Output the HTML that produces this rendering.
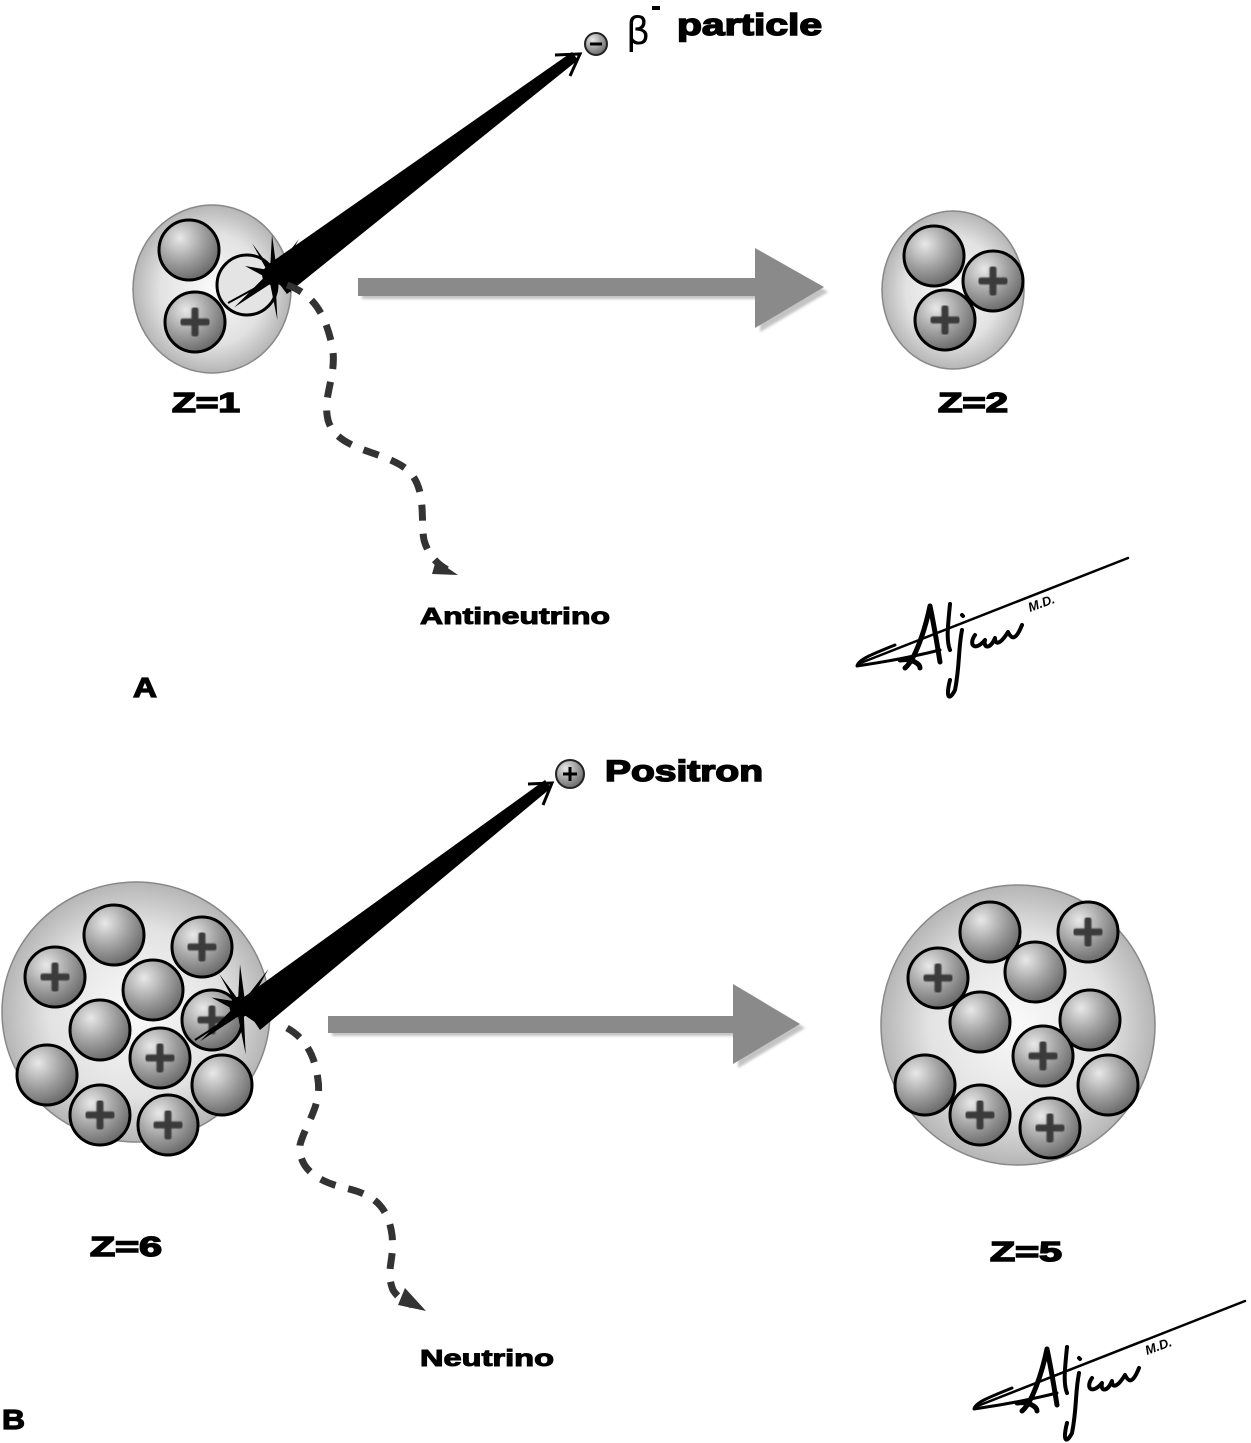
<!DOCTYPE html>
<html><head><meta charset="utf-8"><style>
html,body{margin:0;padding:0;background:#fff;}
svg{display:block;}
text{font-family:"Liberation Sans",Arial,sans-serif;font-weight:bold;fill:#000;}
</style></head><body>
<svg width="1251" height="1443" viewBox="0 0 1251 1443" xmlns="http://www.w3.org/2000/svg">
<defs>
<radialGradient id="nuc" cx="0.5" cy="0.5" r="0.55">
<stop offset="0" stop-color="#fafafa"/><stop offset="0.6" stop-color="#e2e2e2"/><stop offset="1" stop-color="#a8a8a8"/>
</radialGradient>
<radialGradient id="ball" cx="0.35" cy="0.3" r="0.8">
<stop offset="0" stop-color="#e8e8e8"/><stop offset="0.5" stop-color="#a0a0a0"/><stop offset="1" stop-color="#5e5e5e"/>
</radialGradient>
<filter id="sh" x="-20%" y="-20%" width="140%" height="140%"><feGaussianBlur stdDeviation="1.2"/></filter>
<filter id="bl"><feGaussianBlur stdDeviation="0.8"/></filter>
<g id="b"><circle r="30" fill="url(#ball)" stroke="#000" stroke-width="3"/></g>
<g id="p"><circle r="30" fill="url(#ball)" stroke="#000" stroke-width="3"/><path d="M0,-12V12M-12,0H12" stroke="#3a3a3a" stroke-width="7" stroke-linecap="round" filter="url(#bl)"/></g>
<g id="star"><path d="M0,-45 L5,-8 L30,-40 L10,-4 L48,-4 L10,4 L22,20 L4,8 L6,50 L-2,10 L-42,36 L-8,2 L-30,-10 L-6,-6 L-22,-35 L-2,-8Z" fill="#000"/><circle r="11" fill="#000"/></g>
<g id="sig" fill="none" stroke="#000" stroke-linecap="round" stroke-linejoin="round">
<path d="M858,664 L1128,558" stroke-width="2.5"/>
<path d="M895,645 C870,655 858,660 857,666 C870,664 900,660 940,650" stroke-width="3"/>
<path d="M930,606 C925,630 915,660 905,668 M930,606 C935,630 938,650 940,662 M900,660 C912,658 920,664 920,668" stroke-width="5"/>
<path d="M950,604 C948,625 946,640 950,650 M962,630 C958,650 960,665 955,690 C950,700 945,700 950,680 M962,615 l1,1" stroke-width="4"/>
<path d="M975,635 C968,645 975,652 985,640 C983,648 990,650 995,638 C995,645 1000,645 1008,632 C1012,640 1016,640 1022,625" stroke-width="4"/>
</g>
</defs>

<!-- Panel A -->
<ellipse cx="212" cy="289" rx="79" ry="84" fill="url(#nuc)" stroke="#888" stroke-width="1.5"/>
<use href="#b" x="189" y="250"/>
<use href="#p" x="195" y="322"/>
<circle cx="247" cy="285" r="30" fill="#e4e4e4" stroke="#000" stroke-width="3"/>
<line x1="228" y1="303" x2="270" y2="280" stroke="#000" stroke-width="2"/>
<polygon points="266,266 287,294 578,60 572,52" fill="#000"/>
<use href="#star" transform="translate(272 275) scale(0.9)"/>
<path d="M555,55 L580,54 L570,76" fill="none" stroke="#000" stroke-width="3"/>
<circle cx="596" cy="44" r="11" fill="url(#ball)" stroke="#222" stroke-width="2"/>
<line x1="590" y1="44" x2="602" y2="44" stroke="#000" stroke-width="3"/>
<text x="626" y="44" style="font-weight:normal;font-family:'DejaVu Sans',sans-serif" font-size="38">β</text>
<rect x="652" y="6" width="8" height="4" fill="#000"/>
<text x="677" y="35" font-size="31" stroke="#000" stroke-width="1.5" textLength="145" lengthAdjust="spacingAndGlyphs">particle</text>

<g filter="url(#sh)" opacity="0.35"><rect x="362" y="281" width="402" height="18" fill="#555"/><polygon points="760,252 828,292 760,332" fill="#555"/></g>
<rect x="358" y="278" width="402" height="18" fill="#8a8a8a"/>
<polygon points="755,248 824,287 755,328" fill="#8a8a8a"/>

<ellipse cx="953" cy="290" rx="71" ry="79" fill="url(#nuc)" stroke="#888" stroke-width="1.5"/>
<use href="#b" x="934" y="256"/>
<use href="#p" x="993" y="281"/>
<use href="#p" x="945" y="320"/>

<path d="M287,285 C315,295 325,315 332,345 C338,375 322,395 328,420 C336,450 380,450 405,468 C428,485 420,520 424,540 C428,555 438,565 448,570" fill="none" stroke="#333" stroke-width="7" stroke-dasharray="16 13"/>
<polygon points="436,560 458,575 432,574" fill="#333"/>

<text x="172" y="412" font-size="28" stroke="#000" stroke-width="1.5" textLength="68" lengthAdjust="spacingAndGlyphs">Z=1</text>
<text x="938" y="412" font-size="28" stroke="#000" stroke-width="1.5" textLength="70" lengthAdjust="spacingAndGlyphs">Z=2</text>
<text x="420" y="624" font-size="23" stroke="#000" stroke-width="1" textLength="190" lengthAdjust="spacingAndGlyphs">Antineutrino</text>
<text x="133" y="697" font-size="28" stroke="#000" stroke-width="1.2" textLength="24" lengthAdjust="spacingAndGlyphs">A</text>
<use href="#sig"/>
<text x="1030" y="612" font-size="13" transform="rotate(-20 1030 612)" style="font-style:italic">M.D.</text>

<!-- Panel B -->
<ellipse cx="136" cy="1012" rx="134" ry="130" fill="url(#nuc)" stroke="#888" stroke-width="1.5"/>
<use href="#b" x="114" y="935"/>
<use href="#p" x="202" y="947"/>
<use href="#p" x="55" y="977"/>
<use href="#b" x="153" y="990"/>
<use href="#p" x="212" y="1020"/>
<use href="#b" x="100" y="1030"/>
<use href="#p" x="160" y="1058"/>
<use href="#b" x="47" y="1075"/>
<use href="#b" x="222" y="1085"/>
<use href="#p" x="100" y="1115"/>
<use href="#p" x="168" y="1125"/>
<line x1="195" y1="1040" x2="238" y2="1012" stroke="#000" stroke-width="2"/>
<polygon points="240,1000 260,1030 551,788 545,780" fill="#000"/>
<use href="#star" transform="translate(240 1007) scale(0.95)"/>
<path d="M528,784 L552,783 L543,805" fill="none" stroke="#000" stroke-width="3"/>
<circle cx="570" cy="774" r="14" fill="url(#ball)" stroke="#222" stroke-width="2"/>
<path d="M570,767V781M563,774H577" stroke="#000" stroke-width="3"/>
<text x="605" y="781" font-size="30" stroke="#000" stroke-width="1.5" textLength="158" lengthAdjust="spacingAndGlyphs">Positron</text>

<g filter="url(#sh)" opacity="0.35"><rect x="332" y="1019" width="412" height="17" fill="#555"/><polygon points="738,988 805,1028 738,1068" fill="#555"/></g>
<rect x="328" y="1016" width="412" height="17" fill="#8a8a8a"/>
<polygon points="733,984 800,1024 733,1064" fill="#8a8a8a"/>

<ellipse cx="1018" cy="1025" rx="137" ry="140" fill="url(#nuc)" stroke="#888" stroke-width="1.5"/>
<use href="#b" x="990" y="932"/>
<use href="#p" x="1088" y="932"/>
<use href="#p" x="938" y="978"/>
<use href="#b" x="1035" y="972"/>
<use href="#b" x="980" y="1022"/>
<use href="#b" x="1090" y="1020"/>
<use href="#p" x="1043" y="1056"/>
<use href="#b" x="925" y="1085"/>
<use href="#b" x="1108" y="1085"/>
<use href="#p" x="980" y="1115"/>
<use href="#p" x="1050" y="1128"/>

<path d="M287,1028 C305,1038 315,1055 318,1080 C322,1105 305,1125 300,1145 C298,1170 320,1182 345,1188 C372,1194 388,1205 392,1235 C395,1260 385,1270 393,1290 C398,1298 405,1302 412,1305" fill="none" stroke="#333" stroke-width="7" stroke-dasharray="16 13"/>
<polygon points="405,1288 426,1311 398,1305" fill="#333"/>

<text x="90" y="1256" font-size="28" stroke="#000" stroke-width="1.5" textLength="72" lengthAdjust="spacingAndGlyphs">Z=6</text>
<text x="990" y="1261" font-size="28" stroke="#000" stroke-width="1.5" textLength="72" lengthAdjust="spacingAndGlyphs">Z=5</text>
<text x="420" y="1366" font-size="23" stroke="#000" stroke-width="1" textLength="134" lengthAdjust="spacingAndGlyphs">Neutrino</text>
<text x="2" y="1429" font-size="28" stroke="#000" stroke-width="1.2" textLength="23" lengthAdjust="spacingAndGlyphs">B</text>
<use href="#sig" transform="translate(117 743)"/>
<text x="1147" y="1355" font-size="13" transform="rotate(-20 1147 1355)" style="font-style:italic">M.D.</text>
</svg>
</body></html>
